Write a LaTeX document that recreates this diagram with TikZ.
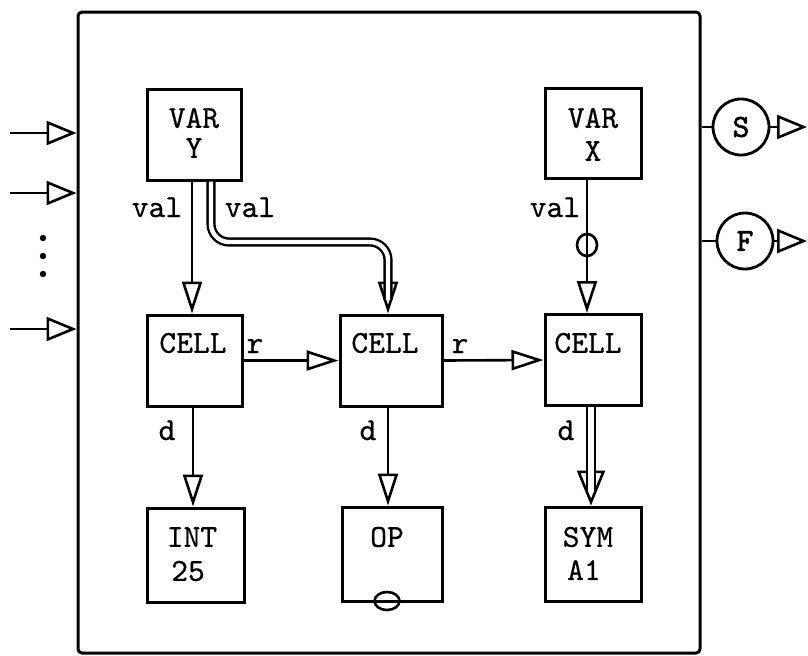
\documentclass[tikz,border=0pt]{standalone}
\usepackage{fontspec}
\setmonofont{lmmono10-regular}[Extension=.otf, FakeBold=0.5, BoldFont=lmmono10-regular, BoldFeatures={FakeBold=2}]
\usetikzlibrary{arrows.meta,shapes.geometric}
\begin{document}
\begin{tikzpicture}[x=0.5pt,y=-0.5pt,
  font=\fontsize{16}{18}\selectfont\ttfamily,
  box/.style={draw, line width=1.5pt, inner sep=0pt},
  conn/.style={line width=1.3pt},
  harr/.style={conn, -{Triangle[open, length=15pt, width=12pt, line width=1.3pt]}},
  varr/.style={conn, -{Triangle[open, length=16pt, width=10pt, line width=1.3pt]}},
  bigarr/.style={conn, -{Triangle[open, length=17.5pt, width=14pt, line width=1.3pt]}},
  dbl/.style={line width=1.2pt, double, double distance=2.2pt},
  lbl/.style={inner sep=0pt, anchor=base},
  txt/.style={inner sep=0pt},
  port/.style={circle, draw, line width=1.4pt, minimum size=28pt, inner sep=0pt, font=\fontsize{16}{18}\selectfont\ttfamily\bfseries}]
\useasboundingbox (0,0) rectangle (808,655);
% frame
\node[box, rounded corners=2pt, minimum width=311pt, minimum height=320.5pt] (frame) at (389,332.5) {};
% boxes
\node[box, minimum width=47pt, minimum height=45.5pt] (vary) at (194,134.5) {};
\node[txt] (varyA) at (194,118) {VAR};
\node[txt] (varyB) at (194,148) {Y};
\node[box, minimum width=48pt, minimum height=45pt] (varx) at (593,133) {};
\node[txt] (varxA) at (593,118) {VAR};
\node[txt] (varxB) at (593,151) {X};
\node[box, minimum width=47.5pt, minimum height=45.5pt] (c1) at (194.5,360.5) {};
\node[txt] (c1t) at (193,343) {CELL};
\node[box, minimum width=51pt, minimum height=45.5pt] (c2) at (391,360.5) {};
\node[txt] (c2t) at (385,343) {CELL};
\node[box, minimum width=48pt, minimum height=45.5pt] (c3) at (593,360) {};
\node[txt] (c3t) at (588,343) {CELL};
\node[box, minimum width=48.5pt, minimum height=47pt] (int) at (195.5,555) {};
\node[txt] (intA) at (192,537) {INT};
\node[txt] (intB) at (188,571) {25};
\node[box, minimum width=50pt, minimum height=47pt] (op) at (392,554) {};
\node[txt] (opA) at (387,537) {OP};
\node[box, minimum width=48pt, minimum height=47pt] (sym) at (593,554) {};
\node[txt] (symA) at (588,537) {SYM};
\node[txt] (symB) at (584,570) {A1};
% column coordinates
\coordinate (xa) at (192,0);
\coordinate (xb) at (211,0);
\coordinate (xc) at (388,0);
\coordinate (xd) at (587,0);
\coordinate (xe) at (591,0);
\coordinate (xf) at (193,0);
% VAR Y -> CELL1
\draw[varr] (vary.south -| xa) -- (c1.north -| xa);
\node[lbl] (val1) at (157,217) {val};
% VAR Y -> CELL2 (double)
\coordinate (dhead) at (388,272);
\coordinate (dmid) at (300,242);
\coordinate (dend) at (388,300);
\draw[varr] (dhead) -- (c2.north -| xc);
\draw[dbl, rounded corners=9pt] (vary.south -| xb) |- (dmid) -| (dend);
\node[lbl] (val2) at (250,217) {val};
% VAR X -> CELL3
\draw[varr] (varx.south -| xd) -- (c3.north -| xd);
\node[ellipse, draw, line width=1.3pt, minimum width=10pt, minimum height=11pt, inner sep=0pt] (ring) at (587,245) {};
\node[lbl] (val3) at (555,217) {val};
% r arrows
\draw[varr] (c1.east) -- (c2.west);
\draw[varr] (c2.east) -- (c3.west);
\node[lbl] (r1) at (255,353) {r};
\node[lbl] (r2) at (460,353) {r};
% d arrows
\draw[varr] (c1.south -| xf) -- (int.north -| xf);
\draw[varr] (c2.south -| xc) -- (op.north -| xc);
\coordinate (shead) at (591,455);
\coordinate (send) at (591,492);
\draw[bigarr] (shead) -- (sym.north -| xe);
\draw[dbl, double distance=2.6pt] (c3.south -| xe) -- (send);
\node[lbl] (d1) at (167,440) {d};
\node[lbl] (d2) at (368,440) {d};
\node[lbl] (d3) at (566,440) {d};
% OP ring
\node[ellipse, draw, line width=1.3pt, minimum width=12.5pt, minimum height=9pt, inner sep=0pt] (opring) at (387,601) {};
% inputs
\coordinate (in1) at (10,133);
\coordinate (in2) at (10,193);
\coordinate (in3) at (10,329);
\draw[harr] (in1) -- (in1 -| frame.west);
\draw[harr] (in2) -- (in2 -| frame.west);
\draw[harr] (in3) -- (in3 -| frame.west);
\fill (43,238) circle (1.6pt);
\fill (43,256) circle (1.6pt);
\fill (43,274) circle (1.6pt);
% outputs
\node[port] (S) at (741,127) {S};
\node[port] (F) at (745,241) {F};
\draw[conn] (S.west -| frame.east) -- (S.west);
\draw[conn] (F.west -| frame.east) -- (F.west);
\coordinate (sout) at (807,127);
\coordinate (fout) at (807,241);
\draw[harr] (S.east) -- (sout);
\draw[harr] (F.east) -- (fout);
\end{tikzpicture}
\end{document}
